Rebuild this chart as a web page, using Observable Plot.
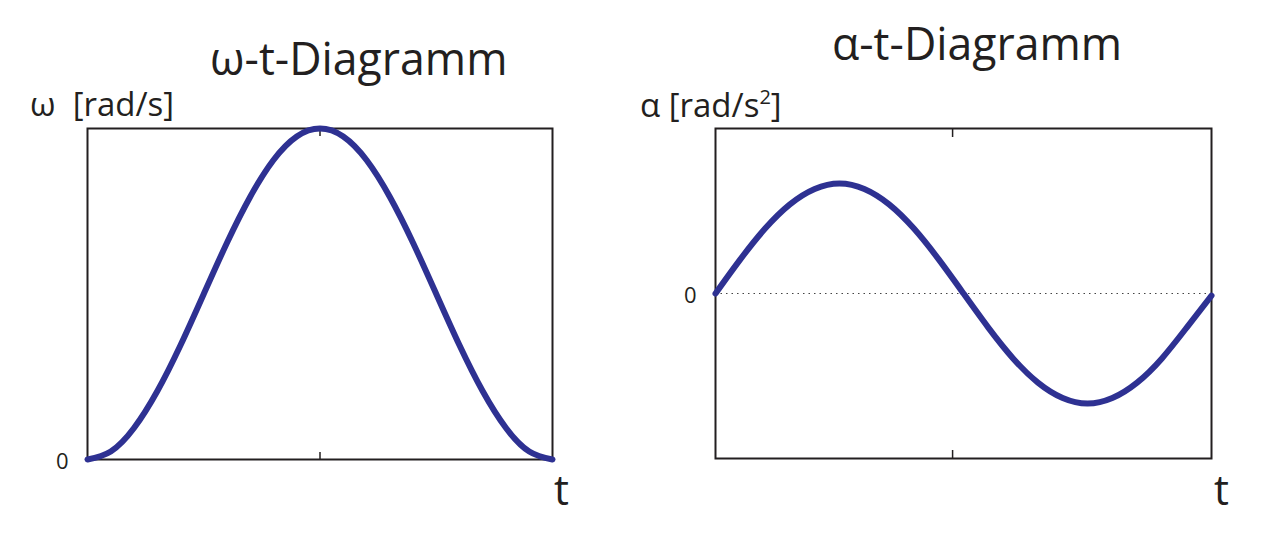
<!DOCTYPE html>
<html>
<head>
<meta charset="utf-8">
<script src="https://cdn.jsdelivr.net/npm/d3@7"></script>
<script src="https://cdn.jsdelivr.net/npm/@observablehq/plot@0.6"></script>
<style>
  html, body { margin: 0; padding: 0; background: #fff; }
  #wrap { position: relative; width: 1275px; height: 537px; overflow: hidden; font-family: "Open Sans", "Noto Sans", sans-serif; color: #231f20; }
  .panel { position: absolute; top: 0; }
  .lbl { position: absolute; white-space: nowrap; line-height: 1; transform-origin: left top; }
  .title { font-size: 46px; transform: scaleX(0.97); }
  .axlbl { font-size: 33px; }
  .tlbl { font-size: 42px; }
</style>
</head>
<body>
<div id="wrap">
  <div id="left" class="panel" style="left:0px"></div>
  <div id="right" class="panel" style="left:640px"></div>
  <div class="lbl title" style="left:210px; top:34px;">ω-t-Diagramm</div>
  <div class="lbl title" style="left:832px; top:19px;">α-t-Diagramm</div>
  <div class="lbl axlbl" style="left:30px; top:87px;">ω&nbsp; [rad/s]</div>
  <div class="lbl axlbl" style="left:640px; top:87px;">α [rad/s<sup style="font-size:20px; vertical-align: 13px;">2</sup>]</div>
  <div class="lbl tlbl" style="left:554px; top:468px;">t</div>
  <div class="lbl tlbl" style="left:1214px; top:468px;">t</div>
</div>
<script>
// Sampled readings from the reference (t normalised to the frame width)
const tValues = [0, 0.05, 0.1, 0.15, 0.2, 0.25, 0.3, 0.35, 0.4, 0.45, 0.5, 0.55, 0.6, 0.65, 0.7, 0.75, 0.8, 0.85, 0.9, 0.95, 1];
const omegaValues = [0, 0.024, 0.095, 0.206, 0.345, 0.5, 0.655, 0.794, 0.905, 0.976, 1, 0.976, 0.905, 0.794, 0.655, 0.5, 0.345, 0.206, 0.095, 0.024, 0];
const alphaValues = [0, 0.31, 0.59, 0.81, 0.95, 1, 0.95, 0.81, 0.59, 0.31, 0, -0.31, -0.59, -0.81, -0.95, -1, -0.95, -0.81, -0.59, -0.31, -0.02];
const omegaMidTicks = [0.5];
const alphaMidTicks = [0.478];
const zeroTick = [0];

const omegaData = tValues.map((t, i) => ({t, v: omegaValues[i]}));
const alphaData = tValues.map((t, i) => ({t, v: alphaValues[i]}));

const curveColor = "#2e3192";
const ink = "#231f20";

const zeroLabel = () => Plot.text(zeroTick, {
  y: d => d, text: d => `${d}`, frameAnchor: "left", textAnchor: "end",
  dx: -19, dy: 2, fontSize: 22, fill: ink
});

const left = Plot.plot({
  width: 640, height: 537,
  marginLeft: 87, marginRight: 88, marginTop: 128, marginBottom: 78,
  x: {domain: [0, 1]},
  y: {domain: [0, 1], axis: null},
  style: {fontFamily: "'Open Sans', sans-serif", fontSize: "22px", background: "white"},
  marks: [
    Plot.frame({stroke: ink, strokeWidth: 2}),
    Plot.axisX({anchor: "bottom", ticks: omegaMidTicks, tickSize: -7, tickFormat: () => "", stroke: ink, strokeWidth: 1.5, label: null}),
    Plot.axisX({anchor: "top", ticks: omegaMidTicks, tickSize: -7, tickFormat: () => "", stroke: ink, strokeWidth: 1.5, label: null}),
    zeroLabel(),
    Plot.line(omegaData, {x: "t", y: "v", stroke: curveColor, strokeWidth: 6, curve: "natural"})
  ]
});
document.getElementById("left").appendChild(left);

const right = Plot.plot({
  width: 635, height: 537,
  marginLeft: 75, marginRight: 64, marginTop: 128, marginBottom: 79,
  x: {domain: [0, 1]},
  y: {domain: [-1.5, 1.5], axis: null},
  style: {fontFamily: "'Open Sans', sans-serif", fontSize: "22px", background: "white"},
  marks: [
    Plot.ruleY(zeroTick, {stroke: "#444", strokeWidth: 1, strokeDasharray: "1.5,4"}),
    Plot.frame({stroke: ink, strokeWidth: 2}),
    Plot.axisX({anchor: "bottom", ticks: alphaMidTicks, tickSize: -8, tickFormat: () => "", stroke: ink, strokeWidth: 1.5, label: null}),
    Plot.axisX({anchor: "top", ticks: alphaMidTicks, tickSize: -8, tickFormat: () => "", stroke: ink, strokeWidth: 1.5, label: null}),
    zeroLabel(),
    Plot.line(alphaData, {x: "t", y: "v", stroke: curveColor, strokeWidth: 6, curve: "natural"})
  ]
});
document.getElementById("right").appendChild(right);
</script>
</body>
</html>
